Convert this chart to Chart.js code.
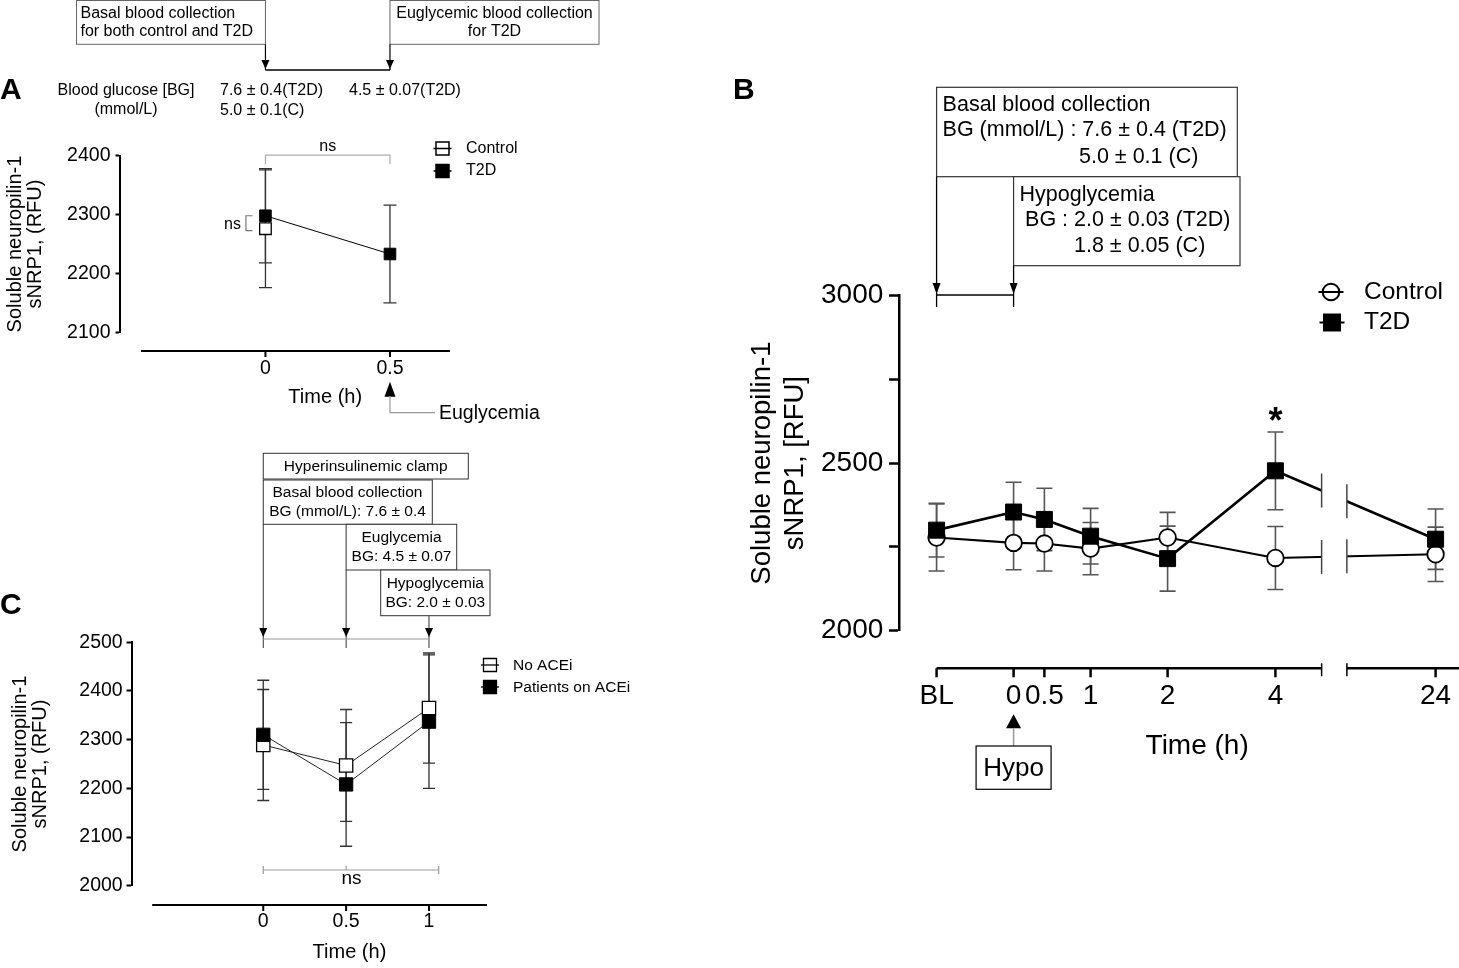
<!DOCTYPE html>
<html lang="en">
<head>
<meta charset="UTF-8">
<title>Soluble neuropilin-1 during clamps</title>
<script src="https://cdn.jsdelivr.net/npm/chart.js"></script>
<style>
  html, body { margin: 0; padding: 0; background: #fff; }
  body { width: 1459px; height: 968px; position: relative; overflow: hidden; }
  canvas { position: absolute; }
  #chartA { left: 0; top: 0; }
  #chartB { left: 720px; top: 0; }
  #chartC { left: 0; top: 440px; }
</style>
</head>
<body>
<canvas id="chartA" width="720" height="440"></canvas>
<canvas id="chartB" width="739" height="968"></canvas>
<canvas id="chartC" width="720" height="528"></canvas>

<script>
// ---------- Panel A: basal vs euglycemia ----------
const aTimes = [0, 0.5];
const aTimeLabels = ['0', '0.5'];
const aControlMean = [2276];          // control only sampled at basal
const aControlSem = [100];
const aT2DMean = [2298, 2233];
const aT2DSem = [80, 83];
const aYTicks = [2100, 2200, 2300, 2400];

// ---------- Panel B: hypoglycemia time course ----------
const bTimeLabels = ['BL', '0', '0.5', '1', '2', '4', '24'];
const bControlMean = [2278, 2262, 2260, 2245, 2278, 2217, 2228];
const bControlSem = [100, 80, 82, 78, 75, 94, 81];
const bT2DMean = [2300, 2354, 2332, 2282, 2215, 2477, 2273];
const bT2DSem = [80, 89, 93, 83, 97, 116, 90];
const bYTicks = [2000, 2500, 3000];

// ---------- Panel C: ACE inhibitor groups ----------
const cTimes = [0, 0.5, 1];
const cTimeLabels = ['0', '0.5', '1'];
const cNoAceMean = [2289, 2247, 2365];
const cNoAceSem = [114, 115, 113];
const cAceMean = [2310, 2208, 2337];
const cAceSem = [112, 127, 137];
const cYTicks = [2000, 2100, 2200, 2300, 2400, 2500];

// layout of panel B's broken time axis (where each label sits, and the gap)
const bAxisPos = [-2.5, 0, 1, 2.5, 5, 8.5, 13.7];
const bBreak = [10.0, 10.82];

const FONT = "'Liberation Sans', Arial, Helvetica, sans-serif";
Chart.defaults.font.family = FONT;
Chart.defaults.color = '#000';

// ---- small drawing helpers ----
function txt(ctx, s, x, y, size, align, opts) {
    opts = opts || {};
    ctx.save();
    ctx.font = (opts.bold ? 'bold ' : '') + size + 'px ' + FONT;
    ctx.fillStyle = opts.color || '#000';
    ctx.textAlign = align || 'left';
    ctx.textBaseline = opts.baseline || 'middle';
    ctx.fillText(s, x, y);
    ctx.restore();
}

function line(ctx, pts, color, w) {
    ctx.save();
    ctx.strokeStyle = color || '#000';
    ctx.lineWidth = w || 1;
    ctx.beginPath();
    ctx.moveTo(pts[0][0], pts[0][1]);
    for (let i = 1; i < pts.length; i++) ctx.lineTo(pts[i][0], pts[i][1]);
    ctx.stroke();
    ctx.restore();
}

function box(ctx, x1, y1, x2, y2, color, w) {
    ctx.save();
    ctx.fillStyle = '#fff';
    ctx.fillRect(x1, y1, x2 - x1, y2 - y1);
    ctx.strokeStyle = color || '#333';
    ctx.lineWidth = w || 1;
    ctx.strokeRect(x1, y1, x2 - x1, y2 - y1);
    ctx.restore();
}

// dir 1 points down, -1 points up
function arrowHead(ctx, x, tipY, dir, w, h) {
    ctx.save();
    ctx.fillStyle = '#000';
    ctx.beginPath();
    ctx.moveTo(x, tipY);
    ctx.lineTo(x - w / 2, tipY - dir * h);
    ctx.lineTo(x + w / 2, tipY - dir * h);
    ctx.closePath();
    ctx.fill();
    ctx.restore();
}

function legendMark(ctx, x, y, shape, filled, r, half, lw) {
    line(ctx, [[x - half, y], [x + half, y]], '#000', lw);
    ctx.save();
    ctx.fillStyle = filled ? '#000' : '#fff';
    ctx.strokeStyle = '#000';
    ctx.lineWidth = lw;
    ctx.beginPath();
    if (shape === 'circle') ctx.arc(x, y, r, 0, Math.PI * 2);
    else ctx.rect(x - r, y - r, 2 * r, 2 * r);
    ctx.fill();
    ctx.stroke();
    ctx.restore();
    if (!filled) line(ctx, [[x - r, y], [x + r, y]], '#000', lw);
}

// mean +/- SEM whiskers, drawn under the markers
const errorBars = {
    id: 'errorBars',
    beforeDatasetsDraw(chart) {
        const ctx = chart.ctx;
        const ys = chart.scales.y;
        chart.data.datasets.forEach((ds, i) => {
            if (!ds.sem) return;
            const meta = chart.getDatasetMeta(i);
            ctx.save();
            ctx.strokeStyle = ds.errColor || '#555';
            ctx.lineWidth = ds.errWidth || 1.5;
            meta.data.forEach((pt, j) => {
                const v = ds.data[j].y, e = ds.sem[j], c = ds.capHalf || 7;
                const top = ys.getPixelForValue(v + e), bot = ys.getPixelForValue(v - e);
                ctx.beginPath();
                ctx.moveTo(pt.x, top); ctx.lineTo(pt.x, bot);
                ctx.moveTo(pt.x - c, top); ctx.lineTo(pt.x + c, top);
                ctx.moveTo(pt.x - c, bot); ctx.lineTo(pt.x + c, bot);
                ctx.stroke();
            });
            ctx.restore();
        });
    }
};

function points(xs, ys) {
    return ys.map((y, i) => ({ x: xs[i], y: y }));
}

function yAxis(opts) {
    return {
        min: opts.min, max: opts.max,
        afterFit: s => { s.width = opts.width; },
        afterBuildTicks: s => { s.ticks = opts.ticks.map(v => ({ value: v })); },
        ticks: {
            padding: opts.pad,
            font: { size: opts.size },
            callback: v => (opts.labels.includes(v) ? String(v) : '')
        },
        grid: { drawOnChartArea: false, tickLength: opts.tick, tickWidth: opts.lw, color: '#000' },
        border: { display: true, color: '#000', width: opts.lw },
        title: {
            display: true,
            text: opts.title,
            font: { size: opts.titleSize, lineHeight: opts.titleLH },
            padding: { top: opts.titlePad, bottom: 0 }
        }
    };
}

function xAxis(opts) {
    return {
        type: 'linear', min: opts.min, max: opts.max,
        // fixed height; labels sit well inside, so no side padding is wanted
        afterFit: s => { s.height = opts.height; s.paddingLeft = 0; s.paddingRight = 0; },
        afterBuildTicks: s => { s.ticks = opts.pos.map(v => ({ value: v })); },
        ticks: {
            padding: opts.pad,
            autoSkip: false, maxRotation: 0, minRotation: 0,
            font: { size: opts.size },
            callback: (v, i) => opts.labels[i]
        },
        grid: { display: false, drawTicks: false },
        border: { display: false }
    };
}

const baseOptions = {
    responsive: false,
    animation: false,
    events: [],
    plugins: { legend: { display: false }, tooltip: { enabled: false } }
};

// ================= Panel A =================
const panelA = {
    id: 'panelA',
    afterDraw(chart) {
        const ctx = chart.ctx, xs = chart.scales.x, ys = chart.scales.y, area = chart.chartArea;
        const x0 = xs.getPixelForValue(aTimes[0]), x1 = xs.getPixelForValue(aTimes[1]);

        // detached x axis
        line(ctx, [[xs.getPixelForValue(-0.5), 351], [area.right, 351]], '#000', 2);
        aTimes.forEach(t => {
            const px = xs.getPixelForValue(t);
            line(ctx, [[px, 351], [px, 357]], '#000', 2);
        });
        txt(ctx, 'Time (h)', xs.getPixelForValue(0.24), 397, 20, 'center');

        txt(ctx, 'A', 0, 91, 30, 'left', { bold: true });

        // sampling boxes
        box(ctx, 76.5, 0.5, x0, 44.3, '#666');
        txt(ctx, 'Basal blood collection', 80.5, 13.5, 16);
        txt(ctx, 'for both control and T2D', 80.5, 31.5, 16);
        box(ctx, x1, 0.5, 599, 44.3, '#666');
        txt(ctx, 'Euglycemic blood collection', (x1 + 599) / 2, 13.5, 16, 'center');
        txt(ctx, 'for T2D', (x1 + 599) / 2, 31.5, 16, 'center');
        line(ctx, [[x0, 44.3], [x0, 70]], '#000', 1.2);
        line(ctx, [[x1, 44.3], [x1, 70]], '#000', 1.2);
        line(ctx, [[x0, 70], [x1, 70]], '#000', 1.5);
        arrowHead(ctx, x0, 69, 1, 8, 9);
        arrowHead(ctx, x1, 69, 1, 8, 9);

        txt(ctx, 'Blood glucose [BG]', 126, 91, 16, 'center');
        txt(ctx, '(mmol/L)', 126, 109.5, 16, 'center');
        txt(ctx, '7.6 \u00b1 0.4(T2D)', 220, 91, 16);
        txt(ctx, '5.0 \u00b1 0.1(C)', 220, 110.5, 16);
        txt(ctx, '4.5 \u00b1 0.07(T2D)', 349, 91, 16);

        // legend
        legendMark(ctx, 442.5, 148.5, 'rect', false, 6.5, 9, 1.5);
        txt(ctx, 'Control', 466, 148.5, 16);
        legendMark(ctx, 442.5, 171, 'rect', true, 6.5, 9, 1.5);
        txt(ctx, 'T2D', 466, 171, 16);

        // ns between time points
        const yb = area.top - 0.5;
        line(ctx, [[x0, yb + 9], [x0, yb], [x1, yb], [x1, yb + 9]], '#aaa', 1.2);
        txt(ctx, 'ns', (x0 + x1) / 2, 147, 16, 'center');

        // ns between groups at basal
        const yT = ys.getPixelForValue(aT2DMean[0]), yC = ys.getPixelForValue(aControlMean[0]);
        line(ctx, [[x0 - 13, yT], [x0 - 19.5, yT], [x0 - 19.5, yC + 2], [x0 - 13, yC + 2]], '#777', 1.2);
        txt(ctx, 'ns', x0 - 33, 225, 16, 'center');

        // euglycemia marker
        arrowHead(ctx, x1, 381.7, -1, 11, 15);
        line(ctx, [[x1, 396], [x1, 412.7], [435, 412.7]], '#999', 1.2);
        txt(ctx, 'Euglycemia', 439, 413.5, 19.5);
    }
};

new Chart(document.getElementById('chartA'), {
    type: 'line',
    data: {
        datasets: [
            {
                label: 'T2D', data: points(aTimes, aT2DMean), sem: aT2DSem, order: 0,
                borderColor: '#000', borderWidth: 1, pointStyle: 'rect', pointRadius: 8.2,
                pointBackgroundColor: '#000', pointBorderColor: '#000', pointBorderWidth: 1,
                errColor: '#333', errWidth: 1.3, capHalf: 6.5
            },
            {
                label: 'Control', data: points(aTimes, aControlMean), sem: aControlSem, order: 1,
                showLine: false, pointStyle: 'rect', pointRadius: 8.2,
                pointBackgroundColor: '#fff', pointBorderColor: '#000', pointBorderWidth: 1.3,
                errColor: '#333', errWidth: 1.3, capHalf: 6.5
            }
        ]
    },
    options: Object.assign({}, baseOptions, {
        layout: { autoPadding: false, padding: { left: 0, top: 155.7, right: 270, bottom: 0 } },
        scales: {
            x: xAxis({ min: -0.584, max: 0.741, height: 107.7, pos: aTimes, labels: aTimeLabels, pad: 24.8, size: 19.5 }),
            y: yAxis({
                min: 2100, max: 2400, width: 120, ticks: aYTicks, labels: aYTicks, pad: 5, size: 19.5,
                tick: 4.5, lw: 2, title: ['Soluble neuropilin-1', 'sNRP1, (RFU)'],
                titleSize: 20, titleLH: 1.0, titlePad: 5
            })
        }
    }),
    plugins: [errorBars, panelA]
});

// ================= Panel B =================
const panelB = {
    id: 'panelB',
    afterDatasetsDraw(chart) {
        const ctx = chart.ctx, xs = chart.scales.x, area = chart.chartArea;
        const bx1 = xs.getPixelForValue(bBreak[0]), bx2 = xs.getPixelForValue(bBreak[1]);
        ctx.save();
        ctx.fillStyle = '#fff';
        ctx.fillRect(bx1, area.top, bx2 - bx1, area.bottom - area.top);
        ctx.restore();
        // short cut marks where the series lines cross the break
        chart.data.datasets.forEach((ds, i) => {
            const pts = chart.getDatasetMeta(i).data;
            const p = pts[pts.length - 2], q = pts[pts.length - 1];
            [bx1, bx2].forEach(bx => {
                const y = p.y + (q.y - p.y) * (bx - p.x) / (q.x - p.x);
                line(ctx, [[bx, y - 17], [bx, y + 17]], '#444', 1.5);
            });
        });
    },
    afterDraw(chart) {
        const ctx = chart.ctx, xs = chart.scales.x, ys = chart.scales.y;
        const xBL = xs.getPixelForValue(bAxisPos[0]), x0 = xs.getPixelForValue(bAxisPos[1]);
        const bx1 = xs.getPixelForValue(bBreak[0]), bx2 = xs.getPixelForValue(bBreak[1]);

        // broken x axis
        const ay = 668.3;
        line(ctx, [[xBL, ay], [bx1, ay]], '#000', 2.5);
        line(ctx, [[bx2, ay], [chart.width, ay]], '#000', 2.5);
        bAxisPos.forEach(p => {
            const px = xs.getPixelForValue(p);
            line(ctx, [[px, ay], [px, ay + 9]], '#000', 2.5);
        });
        line(ctx, [[bx1, ay - 5], [bx1, ay + 8]], '#000', 1.5);
        line(ctx, [[bx2, ay - 5], [bx2, ay + 8]], '#000', 1.5);
        txt(ctx, 'Time (h)', xs.getPixelForValue(5.96), 746, 28, 'center');

        txt(ctx, 'B', 13, 91, 30, 'left', { bold: true });

        // Hypo marker under time 0
        arrowHead(ctx, x0, 714.3, -1, 15, 14);
        line(ctx, [[x0, 728], [x0, 746]], '#999', 1.5);
        box(ctx, x0 - 37.5, 746, x0 + 37.5, 789.3, '#000', 1.2);
        txt(ctx, 'Hypo', x0, 768.5, 26, 'center');

        // sampling boxes
        box(ctx, xBL, 87.3, 517.3, 176.7, '#333', 1.2);
        txt(ctx, 'Basal blood collection', xBL + 6, 105, 21.5);
        txt(ctx, 'BG (mmol/L) : 7.6 \u00b1 0.4 (T2D)', xBL + 6, 130.5, 21.5);
        txt(ctx, '5.0 \u00b1 0.1 (C)', 359, 157, 21.5);
        box(ctx, x0, 176.7, 520, 265.7, '#333', 1.2);
        txt(ctx, 'Hypoglycemia', x0 + 6, 195, 21.5);
        txt(ctx, 'BG : 2.0 \u00b1 0.03 (T2D)', x0 + 11.5, 220.5, 21.5);
        txt(ctx, '1.8 \u00b1 0.05 (C)', 354, 246, 21.5);
        line(ctx, [[xBL, 176.7], [xBL, 307]], '#000', 1.3);
        line(ctx, [[x0, 265.7], [x0, 307]], '#000', 1.3);
        line(ctx, [[xBL, 295], [x0, 295]], '#000', 1.3);
        arrowHead(ctx, xBL, 294, 1, 8, 11);
        arrowHead(ctx, x0, 294, 1, 8, 11);

        // significance at 4 h
        txt(ctx, '*', xs.getPixelForValue(bAxisPos[5]), 433, 36, 'center', { bold: true, baseline: 'alphabetic' });

        // legend
        legendMark(ctx, 611, 292, 'circle', false, 8.3, 12.5, 2);
        txt(ctx, 'Control', 644, 292, 24.5);
        legendMark(ctx, 612, 322.5, 'rect', true, 8, 12.5, 2);
        txt(ctx, 'T2D', 644, 322.5, 24.5);
    }
};

new Chart(document.getElementById('chartB'), {
    type: 'line',
    data: {
        datasets: [
            {
                label: 'T2D', data: points(bAxisPos, bT2DMean), sem: bT2DSem, order: 0,
                borderColor: '#000', borderWidth: 2.6, pointStyle: 'rect', pointRadius: 11.3,
                pointBackgroundColor: '#000', pointBorderColor: '#000', pointBorderWidth: 1,
                errColor: '#555', errWidth: 1.6, capHalf: 8
            },
            {
                label: 'Control', data: points(bAxisPos, bControlMean), sem: bControlSem, order: 1,
                borderColor: '#000', borderWidth: 2.1, pointStyle: 'circle', pointRadius: 8.3,
                pointBackgroundColor: '#fff', pointBorderColor: '#000', pointBorderWidth: 1.8,
                errColor: '#555', errWidth: 1.6, capHalf: 8
            }
        ]
    },
    options: Object.assign({}, baseOptions, {
        layout: { autoPadding: false, padding: { left: 0, top: 295.5, right: 0, bottom: 0 } },
        scales: {
            x: xAxis({ min: -3.72, max: 14.46, height: 337.3, pos: bAxisPos, labels: bTimeLabels, pad: 48.5, size: 28 }),
            y: yAxis({
                min: 2000, max: 3000, width: 179, ticks: [2000, 2250, 2500, 2750, 3000], labels: bYTicks,
                pad: 5.7, size: 28, tick: 10, lw: 2.5, title: ['Soluble neuropilin-1', 'sNRP1, [RFU]'],
                titleSize: 27.5, titleLH: 1.2, titlePad: 25.5
            })
        }
    }),
    plugins: [errorBars, panelB]
});

// ================= Panel C =================
const panelC = {
    id: 'panelC',
    afterDraw(chart) {
        const ctx = chart.ctx, xs = chart.scales.x, ys = chart.scales.y, area = chart.chartArea;
        const px = cTimes.map(t => xs.getPixelForValue(t));

        // detached x axis
        line(ctx, [[xs.getPixelForValue(-0.67), 465], [area.right, 465]], '#000', 2);
        px.forEach(p => line(ctx, [[p, 465], [p, 471]], '#000', 2));
        txt(ctx, 'Time (h)', xs.getPixelForValue(0.52), 512, 20, 'center');

        txt(ctx, 'C', 0, 166, 30, 'left', { bold: true });

        // clamp protocol boxes (page y minus 440)
        box(ctx, px[0], 13.3, 468.3, 39, '#333');
        txt(ctx, 'Hyperinsulinemic clamp', 365.7, 26.7, 15.5, 'center');
        box(ctx, px[0], 40, 432.3, 84.3, '#333');
        txt(ctx, 'Basal blood collection', 347.5, 52.3, 15.5, 'center');
        txt(ctx, 'BG (mmol/L): 7.6 \u00b1 0.4', 347.5, 71.7, 15.5, 'center');
        box(ctx, px[1], 84.3, 456.7, 130, '#333');
        txt(ctx, 'Euglycemia', 401.5, 97.7, 15.5, 'center');
        txt(ctx, 'BG: 4.5 \u00b1 0.07', 401.5, 116.7, 15.5, 'center');
        box(ctx, 380.7, 130, 490, 175.7, '#333');
        txt(ctx, 'Hypoglycemia', 435.3, 143.3, 15.5, 'center');
        txt(ctx, 'BG: 2.0 \u00b1 0.03', 435.3, 162.7, 15.5, 'center');

        line(ctx, [[px[0], 84.3], [px[0], 208]], '#333', 1);
        line(ctx, [[px[1], 130], [px[1], 208]], '#333', 1);
        line(ctx, [[px[2], 175.7], [px[2], 208]], '#333', 1);
        line(ctx, [[px[0], 199], [px[2], 199]], '#999', 1.2);
        px.forEach(p => arrowHead(ctx, p, 197, 1, 8, 9));

        // legend
        legendMark(ctx, 490, 225, 'rect', false, 6.5, 9, 1.3);
        txt(ctx, 'No ACEi', 513, 225.5, 15.5);
        legendMark(ctx, 490, 247, 'rect', true, 6.5, 9, 1.3);
        txt(ctx, 'Patients on ACEi', 513, 247.5, 15.5);

        // ns across time points
        const yb = 430;
        const xr = px[2] + 9.7;
        line(ctx, [[px[0], yb], [xr, yb]], '#999', 1.2);
        [px[0], xr].forEach(p => line(ctx, [[p, yb - 4], [p, yb + 4]], '#999', 1.2));
        line(ctx, [[px[1], yb - 4], [px[1], yb]], '#999', 1.2);
        txt(ctx, 'ns', 351.5, 439, 19, 'center');
    }
};

new Chart(document.getElementById('chartC'), {
    type: 'line',
    data: {
        datasets: [
            {
                label: 'Patients on ACEi', data: points(cTimes, cAceMean), sem: cAceSem, order: 0,
                borderColor: '#222', borderWidth: 1, pointStyle: 'rect', pointRadius: 9.4,
                pointBackgroundColor: '#000', pointBorderColor: '#000', pointBorderWidth: 1,
                errColor: '#333', errWidth: 1.3, capHalf: 6
            },
            {
                label: 'No ACEi', data: points(cTimes, cNoAceMean), sem: cNoAceSem, order: 1,
                borderColor: '#222', borderWidth: 1, pointStyle: 'rect', pointRadius: 9.4,
                pointBackgroundColor: '#fff', pointBorderColor: '#000', pointBorderWidth: 1.3,
                errColor: '#333', errWidth: 1.3, capHalf: 6
            }
        ]
    },
    options: Object.assign({}, baseOptions, {
        layout: { autoPadding: false, padding: { left: 0, top: 202.3, right: 233, bottom: 0 } },
        scales: {
            x: xAxis({ min: -0.795, max: 1.35, height: 82.3, pos: cTimes, labels: cTimeLabels, pad: 24.6, size: 19.5 }),
            y: yAxis({
                min: 2000, max: 2500, width: 131.5, ticks: cYTicks, labels: cYTicks, pad: 3.8, size: 19.5,
                tick: 5, lw: 2, title: ['Soluble neuropilin-1', 'sNRP1, (RFU)'],
                titleSize: 20, titleLH: 1.0, titlePad: 10
            })
        }
    }),
    plugins: [errorBars, panelC]
});
</script>
</body>
</html>
